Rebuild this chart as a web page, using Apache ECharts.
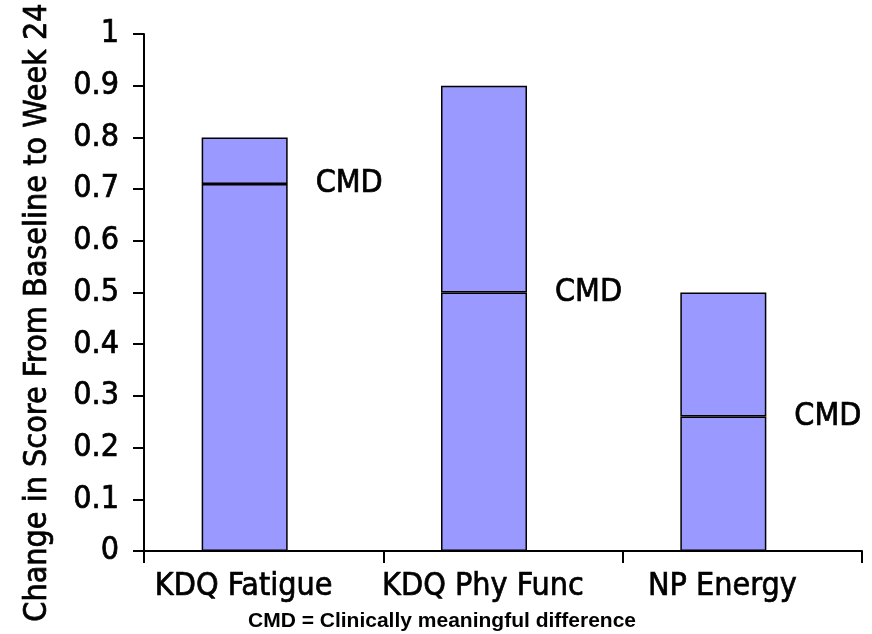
<!DOCTYPE html>
<html>
<head>
<meta charset="utf-8">
<script src="https://cdn.jsdelivr.net/npm/echarts@6/dist/echarts.min.js"></script>
<style>html,body{margin:0;padding:0;background:#fff}#c{width:872px;height:634px}</style>
</head>
<body>
<div id="c"></div>
<script>
const categories = ['KDQ Fatigue', 'KDQ Phy Func', 'NP Energy'];
const totalChange = [0.8, 0.9, 0.5];
const cmdValues = [0.71, 0.5, 0.26];
const yTicks = { min: 0, max: 1, interval: 0.1 };
const yAxisTitle = 'Change in Score From Baseline to Week 24';
const footnote = 'CMD = Clinically meaningful difference';
const cmdLabel = 'CMD';

const FONT = '"DejaVu Sans Condensed", "Liberation Sans Narrow", "Liberation Sans", Arial, sans-serif';
const heavy = { color: '#000', fontFamily: FONT, fontSize: 32, textBorderColor: '#000', textBorderWidth: 0.7 };
const upper = totalChange.map((t, i) => +(t - cmdValues[i]).toFixed(4));
const barStyle = { color: '#9999FF', borderColor: '#000', borderWidth: 1.5 };

const chart = echarts.init(document.getElementById('c'));
chart.setOption({
  animation: false,
  grid: { left: 144, right: 10, top: 34, bottom: 83, containLabel: false },
  xAxis: {
    type: 'category',
    data: categories,
    axisLine: { lineStyle: { color: '#000', width: 2 } },
    axisTick: { show: true, length: 12, lineStyle: { color: '#000', width: 2 } },
    axisLabel: Object.assign({ margin: 20, padding: [0, 40, 0, 0], interval: 0 }, heavy),
    splitLine: { show: false }
  },
  yAxis: {
    type: 'value',
    min: yTicks.min, max: yTicks.max, interval: yTicks.interval,
    name: yAxisTitle,
    nameLocation: 'middle',
    nameRotate: 90,
    nameGap: 90,
    nameTextStyle: Object.assign({ padding: [0, 40, 0, 0] }, heavy),
    axisLine: { show: true, lineStyle: { color: '#000', width: 2 } },
    axisTick: { show: true, length: 11, lineStyle: { color: '#000', width: 2 } },
    axisLabel: Object.assign({ margin: 25 }, heavy),
    splitLine: { show: false }
  },
  series: [
    {
      type: 'bar', stack: 'a', barWidth: 86, barGap: 0,
      data: cmdValues,
      itemStyle: barStyle,
      label: Object.assign({
        show: true, formatter: cmdLabel, position: ['100%', 0],
        align: 'left', verticalAlign: 'middle', offset: [28, 0]
      }, heavy)
    },
    {
      type: 'bar', stack: 'a', barWidth: 86, barGap: 0,
      data: upper,
      itemStyle: barStyle
    },
    {
      type: 'bar', barWidth: 38, barGap: 0,
      data: categories.map(() => '-'),
      itemStyle: { color: 'transparent' }
    }
  ],
  graphic: [{
    type: 'text', left: 248, top: 611,
    style: { text: footnote, fill: '#000', font: 'bold 21px "Liberation Sans", Arial, sans-serif' }
  }]
});
</script>
</body>
</html>
